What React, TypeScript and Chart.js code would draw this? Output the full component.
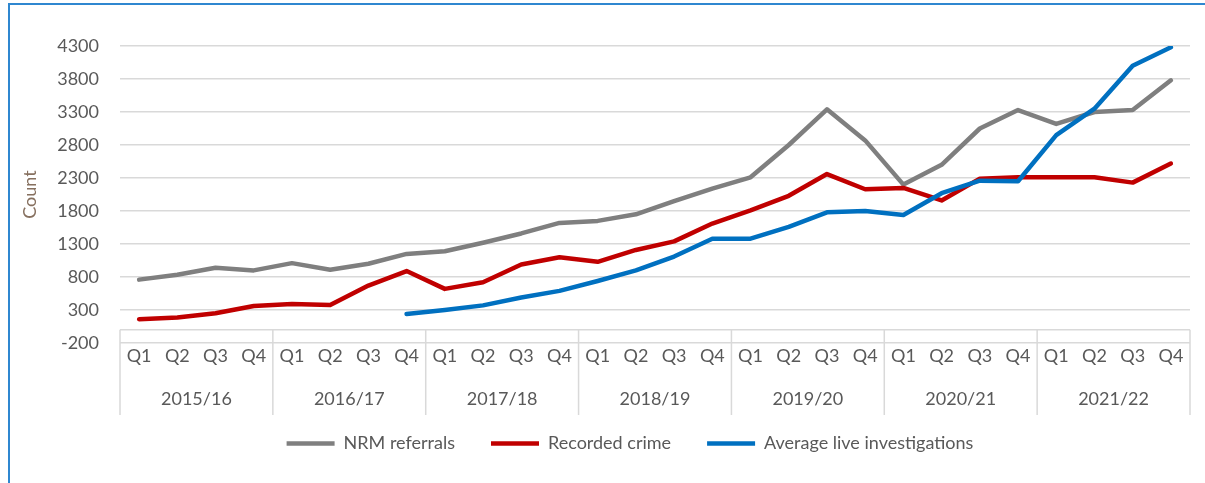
import React, { useEffect, useRef } from "react";
import { Chart, registerables } from "chart.js";

Chart.register(...registerables);

const years = ["2015/16", "2016/17", "2017/18", "2018/19", "2019/20", "2020/21", "2021/22"];
const quarters = ["Q1", "Q2", "Q3", "Q4"];
const categories = years.flatMap(() => quarters);

const nrmReferrals = [760, 835, 940, 900, 1010, 910, 1000, 1150, 1190, 1320, 1460, 1620, 1650, 1750, 1950, 2140, 2310, 2800, 3340, 2870, 2200, 2500, 3050, 3330, 3120, 3300, 3330, 3780];
const recordedCrime = [160, 185, 250, 360, 390, 375, 670, 890, 620, 720, 990, 1100, 1030, 1210, 1340, 1610, 1810, 2030, 2360, 2130, 2150, 1960, 2290, 2310, 2310, 2310, 2230, 2520];
const liveInvestigations = [null, null, null, null, null, null, null, 240, 300, 370, 490, 590, 740, 900, 1110, 1380, 1380, 1560, 1780, 1800, 1740, 2070, 2260, 2250, 2950, 3350, 4000, 4280];

const yMin = -200;
const yMax = 4300;
const yStep = 500;

const FONT = "Lato, 'Open Sans', sans-serif";
const TEXT = "#595959";
const GRID = "#d9d9d9";

const dividerPlugin = {
  id: "dividers",
  afterLayout(chart: any) {
    const lg = chart.legend;
    if (lg) {
      lg.left += 30;
      lg.right += 30;
      lg.top -= 23.4;
      lg.bottom -= 23.4;
    }
  },
  beforeDatasetsDraw(chart: any) {
    const { ctx, chartArea, scales } = chart;
    const x = scales.x;
    const y = scales.y;
    const yr = scales.year;
    const half = (x.getPixelForValue(1) - x.getPixelForValue(0)) / 2;
    const y0 = y.getPixelForValue(0);
    const bottom = yr.top + 38;
    ctx.save();
    ctx.strokeStyle = GRID;
    ctx.lineWidth = 1.5;
    ctx.beginPath();
    ctx.moveTo(chartArea.left, y0);
    ctx.lineTo(chartArea.right, y0);
    for (let k = 0; k <= years.length; k++) {
      const px = k === 0 ? x.getPixelForValue(0) - half : x.getPixelForValue(4 * k - 1) + half;
      ctx.moveTo(px, y0);
      ctx.lineTo(px, bottom);
    }
    ctx.stroke();
    ctx.restore();
  },
};

export default function App() {
  const ref = useRef<HTMLCanvasElement>(null);
  useEffect(() => {
    document.documentElement.style.overflow = "hidden";
    document.body.style.overflow = "hidden";
    const chart = new Chart(ref.current!, {
      type: "line",
      data: {
        labels: categories,
        datasets: [
          { label: "NRM referrals", data: nrmReferrals, borderColor: "#7f7f7f", backgroundColor: "#7f7f7f", order: 3 },
          { label: "Recorded crime", data: recordedCrime, borderColor: "#c00000", backgroundColor: "#c00000", order: 2 },
          { label: "Average live investigations", data: liveInvestigations, borderColor: "#0070c0", backgroundColor: "#0070c0", order: 1 },
        ],
      },
      options: {
        responsive: false,
        animation: false,
        font: { family: FONT },
        datasets: {
          line: {
            borderWidth: 4.5,
            pointRadius: 0,
            pointHoverRadius: 0,
            tension: 0,
            borderCapStyle: "round",
            borderJoinStyle: "round",
            spanGaps: false,
          },
        },
        layout: { padding: { top: 41, right: 15, bottom: 0, left: 0 } },
        plugins: {
          tooltip: { enabled: false },
          legend: {
            position: "bottom",
            labels: {
              usePointStyle: true,
              pointStyle: "line",
              pointStyleWidth: 48,
              padding: 36,
              color: TEXT,
              font: { family: FONT, size: 18 },
              sort: (a: any, b: any) => a.datasetIndex - b.datasetIndex,
            },
          },
        },
        scales: {
          y: {
            min: yMin,
            max: yMax,
            ticks: {
              stepSize: yStep,
              padding: 21,
              color: TEXT,
              font: { family: FONT, size: 18 },
              callback: (v: any) => String(v),
            },
            grid: { color: GRID, lineWidth: 1.5, drawTicks: false },
            border: { display: false },
            title: { display: true, text: "Count", color: "#86705f", font: { family: FONT, size: 18 }, padding: { top: 9, bottom: 4 } },
            afterFit: (s: any) => { s.width = 110; },
          },
          x: {
            type: "category",
            position: "bottom",
            weight: 1,
            offset: true,
            grid: { display: false, drawTicks: false, tickLength: 0 },
            border: { display: false },
            ticks: { padding: 2, color: TEXT, font: { family: FONT, size: 18 }, maxRotation: 0, autoSkip: false },
            afterFit: (s: any) => { s.height = 34; },
          },
          year: {
            type: "category",
            position: "bottom",
            axis: "x",
            display: true,
            weight: 2,
            labels: years,
            offset: true,
            grid: { display: false, drawTicks: false, tickLength: 0 },
            border: { display: false },
            ticks: { display: true, padding: 11, color: TEXT, font: { family: FONT, size: 18 }, maxRotation: 0, autoSkip: false },
            afterFit: (s: any) => { s.height = 45; },
          },
        } as any,
      },
      plugins: [dividerPlugin],
    } as any);
    return () => chart.destroy();
  }, []);

  return (
    <div>
      <div
        style={{
          position: "absolute",
          left: 8,
          top: 3,
          width: 1197,
          height: 480,
          boxSizing: "border-box",
          borderLeft: "2px solid #2f87d0",
          borderTop: "2px solid #2f87d0",
        }}
      />
      <canvas
        ref={ref}
        width={1195}
        height={481}
        style={{ position: "absolute", left: 10, top: 5, width: 1195, height: 481 }}
      />
    </div>
  );
}
